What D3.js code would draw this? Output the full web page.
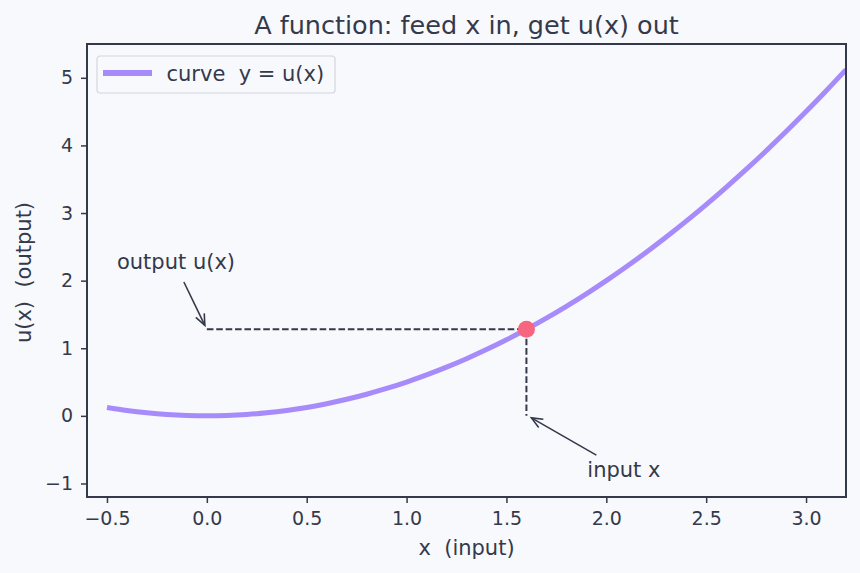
<!DOCTYPE html>
<html>
<head>
<meta charset="utf-8">
<script src="https://cdn.jsdelivr.net/npm/d3@7"></script>
<style>
  html, body { margin: 0; padding: 0; background: #f8f9fc; }
  svg { display: block; }
  text { white-space: pre; }
</style>
</head>
<body>
<div id="chart"></div>
<script>
// curve samples
const curveX = [-0.5,-0.4,-0.3,-0.2,-0.1,0,0.1,0.2,0.3,0.4,0.5,0.6,0.7,0.8,0.9,1.0,1.1,1.2,1.3,1.4,1.5,1.6,1.7,1.8,1.9,2.0,2.1,2.2,2.3,2.4,2.5,2.6,2.7,2.8,2.9,3.0,3.1,3.2];
const curveY = [0.125,0.08,0.045,0.02,0.005,0,0.005,0.02,0.045,0.08,0.125,0.18,0.245,0.32,0.405,0.5,0.605,0.72,0.845,0.98,1.125,1.28,1.445,1.62,1.805,2.0,2.205,2.42,2.645,2.88,3.125,3.38,3.645,3.92,4.205,4.5,4.805,5.12];
const inputX = 1.6;
const outputY = 1.28;
const xTicks = [-0.5, 0.0, 0.5, 1.0, 1.5, 2.0, 2.5, 3.0];
const yTicks = [-1, 0, 1, 2, 3, 4, 5];

const W = 860, H = 573;
const margin = { top: 44, right: 14, bottom: 76, left: 87 };
const width = W - margin.left - margin.right;
const height = H - margin.top - margin.bottom;
const ink = '#343a4b';
const font = '"DejaVu Sans", sans-serif';

const svg = d3.select('#chart').append('svg')
  .attr('width', W).attr('height', H)
  .attr('font-family', font);

svg.append('rect').attr('width', W).attr('height', H).attr('fill', '#f8f9fc');

const x = d3.scaleLinear().domain([-0.6, 3.2]).range([0, width]);
const y = d3.scaleLinear().domain([-1.2, 5.5]).range([height, 0]);

const g = svg.append('g').attr('transform', `translate(${margin.left},${margin.top})`);

svg.append('defs').append('clipPath').attr('id', 'clip')
  .append('rect').attr('width', width).attr('height', height);

// axes
const minus = s => s.replace('-', '\u2212');
function styleAxis(a) {
  a.select('.domain').remove();
  a.attr('font-family', font).attr('font-size', 19);
  a.selectAll('line').attr('stroke', ink).attr('stroke-width', 1.5);
  a.selectAll('text').attr('fill', ink);
}
g.append('g')
  .attr('transform', `translate(0,${height})`)
  .call(d3.axisBottom(x).tickValues(xTicks).tickFormat(d => minus(d.toFixed(1))).tickSize(6).tickPadding(9))
  .call(styleAxis);
g.append('g')
  .call(d3.axisLeft(y).tickValues(yTicks).tickFormat(d => minus(String(d))).tickSize(6).tickPadding(8))
  .call(styleAxis);

// guide lines
const pts = curveX.map((d, i) => [d, curveY[i]]);
g.append('line')
  .attr('x1', x(0)).attr('x2', x(inputX))
  .attr('y1', y(outputY)).attr('y2', y(outputY))
  .attr('stroke', ink).attr('stroke-width', 2).attr('stroke-dasharray', '6.6,2.8');
g.append('line')
  .attr('x1', x(inputX)).attr('x2', x(inputX))
  .attr('y1', y(outputY)).attr('y2', y(0))
  .attr('stroke', ink).attr('stroke-width', 2).attr('stroke-dasharray', '6.6,2.8');

// curve
g.append('path')
  .datum(pts)
  .attr('clip-path', 'url(#clip)')
  .attr('fill', 'none')
  .attr('stroke', '#a78bfa')
  .attr('stroke-width', 5)
  .attr('d', d3.line().x(d => x(d[0])).y(d => y(d[1])).curve(d3.curveCatmullRom));

// point
g.append('circle')
  .attr('cx', x(inputX)).attr('cy', y(outputY)).attr('r', 8.5)
  .attr('fill', '#f7667e');

// annotations with arrows
function arrow(x1, y1, x2, y2) {
  g.append('line').attr('x1', x1).attr('y1', y1).attr('x2', x2).attr('y2', y2)
    .attr('stroke', ink).attr('stroke-width', 1.6);
  const a = Math.atan2(y2 - y1, x2 - x1), L = 12, s = 0.4;
  const p = [[x2 - L * Math.cos(a - s), y2 - L * Math.sin(a - s)], [x2, y2], [x2 - L * Math.cos(a + s), y2 - L * Math.sin(a + s)]];
  g.append('path').attr('d', d3.line()(p)).attr('fill', 'none')
    .attr('stroke', ink).attr('stroke-width', 1.6);
}
arrow(x(-0.115), y(1.98), x(-0.01), y(outputY) - 4);
arrow(x(1.95), y(-0.58), x(inputX) + 5, y(0) + 2);

g.append('text').attr('x', x(-0.45)).attr('y', y(2.17))
  .attr('fill', ink).attr('font-size', 21).text('output u(x)');
g.append('text').attr('x', x(1.905)).attr('y', y(-0.91))
  .attr('fill', ink).attr('font-size', 21).text('input x');

// frame
g.append('rect').attr('width', width).attr('height', height)
  .attr('fill', 'none').attr('stroke', ink).attr('stroke-width', 2);

// legend
const lg = g.append('g').attr('transform', 'translate(10,12)');
lg.append('rect').attr('width', 238).attr('height', 37).attr('rx', 3)
  .attr('fill', '#f8f9fc').attr('stroke', '#d4d6dc').attr('stroke-width', 1.2);
lg.append('line').attr('x1', 6).attr('x2', 55).attr('y1', 17).attr('y2', 17)
  .attr('stroke', '#a78bfa').attr('stroke-width', 6);
lg.append('text').attr('x', 69.5).attr('y', 25)
  .attr('fill', ink).attr('font-size', 21).text('curve  y = u(x)');

// titles
svg.append('text').attr('x', margin.left + width / 2).attr('y', 34)
  .attr('text-anchor', 'middle').attr('fill', ink).attr('font-size', 25.5)
  .text('A function: feed x in, get u(x) out');
svg.append('text').attr('x', margin.left + width / 2).attr('y', 555)
  .attr('text-anchor', 'middle').attr('fill', ink).attr('font-size', 21)
  .text('x  (input)');
svg.append('text')
  .attr('transform', `translate(31,${margin.top + height / 2 + 2}) rotate(-90)`)
  .attr('text-anchor', 'middle').attr('fill', ink).attr('font-size', 21)
  .text('u(x)  (output)');
</script>
</body>
</html>
